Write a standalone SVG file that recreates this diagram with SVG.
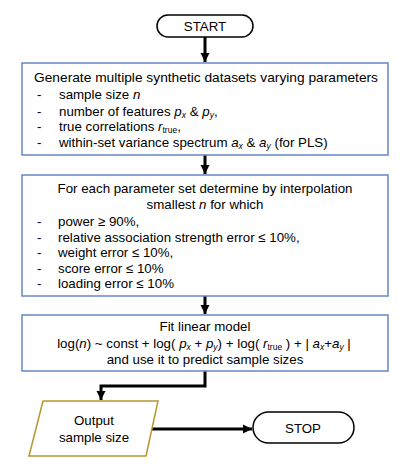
<svg xmlns="http://www.w3.org/2000/svg" width="410" height="473" viewBox="0 0 410 473">
<defs>
<marker id="ah" markerUnits="userSpaceOnUse" markerWidth="10" markerHeight="10" refX="9" refY="5" orient="auto">
<path d="M0,0.5 L9,5 L0,9.5 Z" fill="#000"/>
</marker>
<style>
text{font-family:"Liberation Sans",Arial,sans-serif;font-size:13.3px;fill:#000}
.c{text-anchor:middle}
.box{fill:#fff;stroke:#6586c6;stroke-width:1.5}
.term{fill:#fff;stroke:#000;stroke-width:1.5}
.io{fill:#fff;stroke:#b8962e;stroke-width:1.5}
.conn{fill:none;stroke:#000;stroke-width:3}
.i{font-style:italic}
.s{font-size:8.5px}
</style>
</defs>
<rect width="410" height="473" fill="#fff"/>
<g id="connectors">
<path class="conn" d="M205,37 V62" marker-end="url(#ah)"/>
<path class="conn" d="M205,155 V174" marker-end="url(#ah)"/>
<path class="conn" d="M205,296 V314" marker-end="url(#ah)"/>
<path class="conn" d="M205,371 V386 H101 V400" marker-end="url(#ah)"/>
<path class="conn" d="M152,429 H252" marker-end="url(#ah)"/>
</g>
<g id="start">
<rect class="term" x="157" y="15" width="96" height="22" rx="11"/>
<text class="c" x="205" y="31">START</text>
</g>
<g id="generate">
<rect class="box" x="22" y="63" width="366" height="92"/>
<text class="c" x="206" y="82" textLength="344" lengthAdjust="spacingAndGlyphs">Generate multiple synthetic datasets varying parameters</text>
<text x="37" y="99">-</text><text x="59" y="99">sample size <tspan class="i">n</tspan></text>
<text x="37" y="115.5">-</text><text x="59" y="115.5">number of features <tspan class="i">p</tspan><tspan class="i s" dy="2">x</tspan><tspan dy="-2"> &amp; </tspan><tspan class="i">p</tspan><tspan class="i s" dy="2">y</tspan><tspan dy="-2">,</tspan></text>
<text x="37" y="131">-</text><text x="59" y="131">true correlations <tspan class="i">r</tspan><tspan class="s" dy="2">true</tspan><tspan dy="-2">,</tspan></text>
<text x="37" y="147">-</text><text x="59" y="147">within-set variance spectrum <tspan class="i">a</tspan><tspan class="i s" dy="2">x</tspan><tspan dy="-2"> &amp; </tspan><tspan class="i">a</tspan><tspan class="i s" dy="2">y</tspan><tspan dy="-2"> (for PLS)</tspan></text>
</g>
<g id="determine">
<rect class="box" x="22" y="175" width="366" height="121"/>
<text class="c" x="205" y="193">For each parameter set determine by interpolation</text>
<text class="c" x="205" y="209">smallest <tspan class="i">n</tspan> for which</text>
<text x="37" y="226">-</text><text x="58" y="226">power ≥ 90%,</text>
<text x="37" y="241.5">-</text><text x="58" y="241.5">relative association strength error ≤ 10%,</text>
<text x="37" y="257">-</text><text x="58" y="257">weight error ≤ 10%,</text>
<text x="37" y="272.5">-</text><text x="58" y="272.5">score error ≤ 10%</text>
<text x="37" y="288">-</text><text x="58" y="288">loading error ≤ 10%</text>
</g>
<g id="fit">
<rect class="box" x="22" y="315" width="366" height="56"/>
<text class="c" x="205" y="331">Fit linear model</text>
<text class="c" x="204" y="348">log(<tspan class="i">n</tspan>) ~ const + log( <tspan class="i">p</tspan><tspan class="i s" dy="2">x</tspan><tspan dy="-2"> + </tspan><tspan class="i">p</tspan><tspan class="i s" dy="2">y</tspan><tspan dy="-2">) + log( </tspan><tspan class="i">r</tspan><tspan class="s" dy="2">true</tspan><tspan dy="-2"> ) + | </tspan><tspan class="i">a</tspan><tspan class="i s" dy="2">x</tspan><tspan dy="-2">+</tspan><tspan class="i">a</tspan><tspan class="i s" dy="2">y</tspan><tspan dy="-2"> |</tspan></text>
<text class="c" x="205" y="364">and use it to predict sample sizes</text>
</g>
<g id="output">
<polygon class="io" points="43,401 158,401 146,456 29,456"/>
<text class="c" x="94" y="425">Output</text>
<text class="c" x="94" y="442">sample size</text>
</g>
<g id="stop">
<rect class="term" x="253" y="412" width="101" height="31" rx="15.5"/>
<text class="c" x="303" y="433">STOP</text>
</g>
</svg>
